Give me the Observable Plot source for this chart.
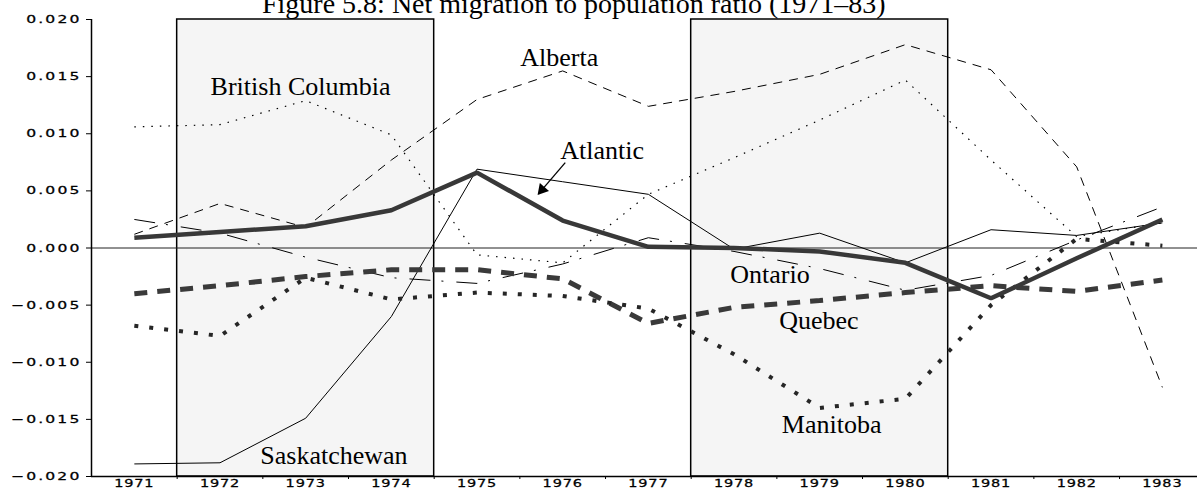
<!DOCTYPE html>
<html><head><meta charset="utf-8">
<script src="https://cdn.jsdelivr.net/npm/d3@7"></script>
<script src="https://cdn.jsdelivr.net/npm/@observablehq/plot@0.6"></script>
<style>
html,body{margin:0;padding:0;background:#fff;overflow:hidden;width:1197px;height:489px;}
#wrap{position:relative;width:1197px;height:489px;overflow:hidden;}
#chart{position:absolute;left:0;top:0;}
#title{position:absolute;left:262px;top:-10px;font-family:"Liberation Serif",serif;font-size:28px;line-height:28px;white-space:nowrap;color:#000;}
</style></head><body>
<div id="wrap"><div id="chart"></div><div id="title">Figure 5.8: Net migration to population ratio (1971–83)</div></div>
<script>
// ---- data ----
const years = [1971,1972,1973,1974,1975,1976,1977,1978,1979,1980,1981,1982,1983];
const atlantic     = [0.0009, 0.0014, 0.0019, 0.0033, 0.0066, 0.0024, 0.0001, 0.0000,-0.0003,-0.0013,-0.0044,-0.0009, 0.0025];
const quebec       = [-0.0040,-0.0033,-0.0025,-0.0019,-0.0019,-0.0027,-0.0066,-0.0052,-0.0046,-0.0039,-0.0033,-0.0038,-0.0028];
const ontario      = [0.0025, 0.0013,-0.0008,-0.0026,-0.0031,-0.0014, 0.0009,-0.0003,-0.0018,-0.0037,-0.0024, 0.0007, 0.0036];
const manitoba     = [-0.0068,-0.0077,-0.0026,-0.0045,-0.0039,-0.0042,-0.0053,-0.0093,-0.0140,-0.0132,-0.0050, 0.0008, 0.0002];
const saskatchewan = [-0.0189,-0.0188,-0.0149,-0.0060, 0.0069, 0.0058, 0.0047,-0.0001, 0.0013,-0.0013, 0.0016, 0.0011, 0.0022];
const alberta      = [0.0012, 0.0039, 0.0018, 0.0077, 0.0130, 0.0155, 0.0124, 0.0137, 0.0152, 0.0178, 0.0156, 0.0071,-0.0122];
const britishColumbia = [0.0106, 0.0108, 0.0129, 0.0099,-0.0006,-0.0013, 0.0047, 0.0079, 0.0112, 0.0147, 0.0077, 0.0010, 0.0022];

const yTicks = [-0.020,-0.015,-0.010,-0.005,0,0.005,0.010,0.015,0.020];
const halfYears = [1971.5,1972.5,1973.5,1974.5,1975.5,1976.5,1977.5,1978.5,1979.5,1980.5,1981.5,1982.5];
const shadedStart = [1971.5, 1977.5];
const shadedEnd   = [1974.5, 1980.5];

const labelText = ["British Columbia","Alberta","Atlantic","Ontario","Quebec","Manitoba","Saskatchewan"];
const labelYear = [1972.94, 1975.96, 1976.46, 1978.42, 1978.99, 1979.14, 1973.33];
const labelValue= [0.01413, 0.01667, 0.00852,-0.00234,-0.00637,-0.01548,-0.01819];

const arrowFrom = [1976.03, 0.00747];
const arrowTo   = [1975.76, 0.00511];

// ---- build tables ----
const seriesDefs = [
  {name:"Alberta", values:alberta, stroke:"#000", w:1, dash:"9,7"},
  {name:"British Columbia", values:britishColumbia, stroke:"#000", w:1.2, dash:"1.5,7"},
  {name:"Ontario", values:ontario, stroke:"#000", w:1, dash:"21,11,2,13"},
  {name:"Saskatchewan", values:saskatchewan, stroke:"#000", w:1, dash:null},
  {name:"Quebec", values:quebec, stroke:"#3a3a3a", w:5, dash:"13,10"},
  {name:"Manitoba", values:manitoba, stroke:"#262626", w:4, dash:"4,11"},
  {name:"Atlantic", values:atlantic, stroke:"#383838", w:4.5, dash:null}
];
const rows = seriesDefs.flatMap(s => years.map((yr, i) => ({series: s.name, year: yr, value: s.values[i]})));
const shaded = shadedStart.map((s, i) => ({start: s, end: shadedEnd[i]}));
const labels = labelText.map((t, i) => ({text: t, year: labelYear[i], value: labelValue[i]}));
const arrows = [{x1: arrowFrom[0], y1: arrowFrom[1], x2: arrowTo[0], y2: arrowTo[1]}];

const lineMarks = seriesDefs.map(s => Plot.line(rows.filter(d => d.series === s.name), {
  x: "year", y: "value", stroke: s.stroke, strokeWidth: s.w,
  strokeDasharray: s.dash || undefined, strokeLinejoin: "miter", strokeLinecap: "butt"
}));

const chart = Plot.plot({
  width: 1197, height: 489,
  marginTop: 19, marginBottom: 13, marginLeft: 91, marginRight: 0,
  x: {domain: [1970.5, 1983.41], axis: null},
  y: {domain: [-0.020, 0.020], axis: null},
  style: {background: "#fff", overflow: "visible"},
  marks: [
    Plot.rect(shaded, {x1: "start", x2: "end", y1: -0.020, y2: 0.020, fill: "#f5f5f5", stroke: "#000", strokeWidth: 1.5}),
    Plot.ruleY([0], {stroke: "#222", strokeWidth: 1}),
    ...lineMarks,
    Plot.link(arrows, {x1: "x1", y1: "y1", x2: "x2", y2: "y2", stroke: "#000", strokeWidth: 1.3}),
    Plot.dot(arrows, {x: "x2", y: "y2", symbol: "triangle", r: 4.5, fill: "#000", stroke: "none", rotate: 221}),
    Plot.text(labels, {x: "year", y: "value", text: "text", fontFamily: "Liberation Serif", fontSize: 26, fill: "#000", textAnchor: "middle"}),
    Plot.ruleX([1970.5], {y1: -0.020, y2: 0.020, stroke: "#000", strokeWidth: 1.5}),
    Plot.ruleY([-0.020], {stroke: "#000", strokeWidth: 1.5}),
    Plot.axisY({ticks: yTicks, tickSize: 5, tickPadding: 5, tickFormat: d3.format(".3f"), fontSize: 11, fontFamily: "DejaVu Sans", stroke: "#000"}),
    Plot.axisX({ticks: years, tickSize: 0, tickPadding: 3, tickFormat: d => String(d), fontSize: 10.5, fontFamily: "DejaVu Sans"}),
    Plot.axisX({ticks: halfYears, tickSize: 3, tickFormat: () => "", stroke: "#000"})
  ]
});
document.getElementById("chart").appendChild(chart);

// widen tick label glyphs (the reference uses an extended sans)
chart.querySelectorAll('g[aria-label="y-axis tick label"] text').forEach(t => {
  t.setAttribute("transform", (t.getAttribute("transform") || "") + " scale(1.42,1)");
  t.style.letterSpacing = "1.5px";
  t.setAttribute("fill", "#000");
  t.setAttribute("stroke", "#000");
  t.setAttribute("stroke-width", "0.25");
});
chart.querySelectorAll('g[aria-label="x-axis tick label"] text').forEach(t => {
  t.setAttribute("transform", (t.getAttribute("transform") || "") + " scale(1.38,1)");
  t.style.letterSpacing = "0.6px";
  t.setAttribute("fill", "#000");
  t.setAttribute("stroke", "#000");
  t.setAttribute("stroke-width", "0.25");
});
</script>
</body></html>
